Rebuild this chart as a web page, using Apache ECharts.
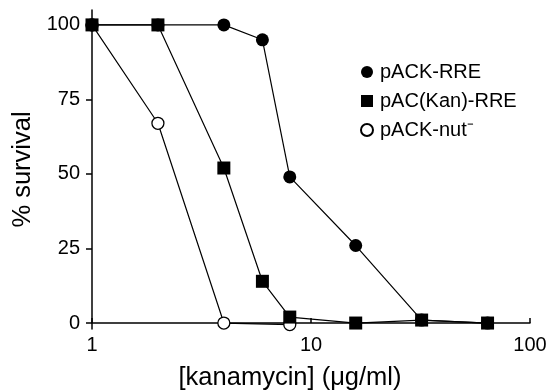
<!DOCTYPE html>
<html><head><meta charset="utf-8">
<script src="https://cdn.jsdelivr.net/npm/echarts@6/dist/echarts.min.js"></script>
<style>html,body{margin:0;padding:0;background:#fff}#c{width:548px;height:391px}</style>
</head><body><div id="c"></div>
<script>
var seriesNames = ['pACK-RRE', 'pAC(Kan)-RRE', 'pACK-nut\u207B'];
var concRRE = [1, 2, 4, 6, 8, 16, 32, 64];
var survRRE = [100, 100, 100, 95, 49, 26, 1, 0];
var concKan = [1, 2, 4, 6, 8, 16, 32, 64];
var survKan = [100, 100, 52, 14, 2, 0, 1, 0];
var concNut = [1, 2, 4, 8];
var survNut = [100, 67, 0, -0.5];
var yTicks = [0, 25, 50, 75, 100];

function pairs(xs, ys){ return xs.map(function(x,i){ return [x, ys[i]]; }); }
var font = 'Liberation Sans, Arial, Helvetica, sans-serif';
var chart = echarts.init(document.getElementById('c'), null, {renderer:'canvas'});
chart.setOption({
  animation: false,
  backgroundColor: '#fff',
  grid: {left: 92, right: 18, top: 10, bottom: 62, outerBoundsMode: 'none', containLabel: false},
  legend: {
    orient: 'vertical', left: 355, top: 57, itemGap: 9,
    itemWidth: 12, itemHeight: 12,
    textStyle: {fontFamily: font, fontSize: 20, lineHeight: 20, color: '#000', padding: [0, 0, 0, 2]},
    data: [
      {name: seriesNames[0], icon: 'circle'},
      {name: seriesNames[1], icon: 'rect'},
      {name: seriesNames[2], icon: 'circle'}
    ]
  },
  xAxis: {
    type: 'log', logBase: 10, min: 1, max: 100,
    name: '[kanamycin] (\u03BCg/ml)', nameLocation: 'middle', nameGap: 36,
    nameTextStyle: {fontFamily: font, fontSize: 25.5, color: '#000', padding: [0, 42, 0, 0]},
    axisLine: {onZero: true, lineStyle: {color: '#000', width: 1.5}},
    axisTick: {inside: true, length: 5, lineStyle: {color: '#000', width: 1.5}},
    minorTick: {show: false},
    splitLine: {show: false},
    axisLabel: {fontFamily: font, fontSize: 20, color: '#000', margin: 6}
  },
  yAxis: {
    type: 'value', min: -2, max: 105,
    name: '% survival', nameLocation: 'middle', nameGap: 56,
    nameTextStyle: {fontFamily: font, fontSize: 25.5, color: '#000'},
    axisLine: {onZero: false, lineStyle: {color: '#000', width: 1.5}},
    axisTick: {length: 6, customValues: yTicks, lineStyle: {color: '#000', width: 1.5}},
    splitLine: {show: false},
    axisLabel: {fontFamily: font, fontSize: 20, color: '#000', margin: 12, customValues: yTicks}
  },
  series: [
    {
      name: seriesNames[2], type: 'line', data: pairs(concNut, survNut), z: 2,
      symbol: 'circle', symbolSize: 12,
      lineStyle: {color: '#000', width: 1.2},
      itemStyle: {color: '#fff', borderColor: '#000', borderWidth: 1.3}
    },
    {
      name: seriesNames[0], type: 'line', data: pairs(concRRE, survRRE), z: 3,
      symbol: 'circle', symbolSize: 13,
      lineStyle: {color: '#000', width: 1.2},
      itemStyle: {color: '#000'}
    },
    {
      name: seriesNames[1], type: 'line', data: pairs(concKan, survKan), z: 4,
      symbol: 'rect', symbolSize: 13,
      lineStyle: {color: '#000', width: 1.2},
      itemStyle: {color: '#000'}
    }
  ]
});
</script></body></html>
